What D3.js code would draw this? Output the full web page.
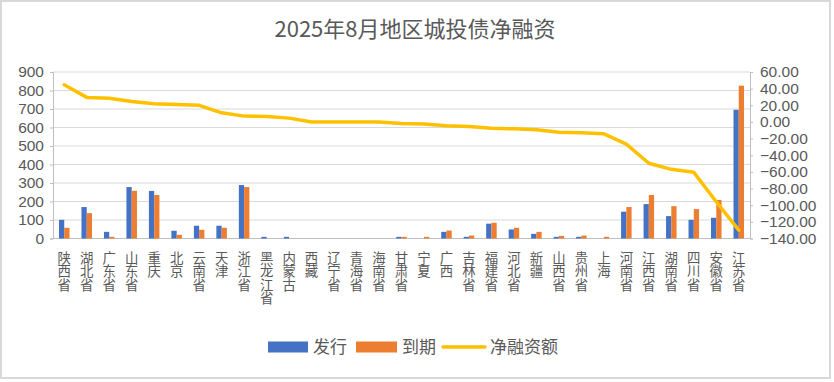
<!DOCTYPE html>
<html><head><meta charset="utf-8">
<script src="https://cdn.jsdelivr.net/npm/d3@7"></script>
<style>
html,body{margin:0;padding:0;background:#fff;}
svg{display:block;}
text{font-family:"Liberation Sans","Noto Sans CJK SC",sans-serif;fill:#595959;}
.cjk{font-family:"Noto Sans CJK SC","Liberation Sans",sans-serif;}
.vert{writing-mode:vertical-rl;text-orientation:upright;}
</style></head>
<body>
<svg id="chart" width="834" height="382"></svg>
<script>
const categories = ["陕西省","湖北省","广东省","山东省","重庆","北京","云南省","天津","浙江省","黑龙江省","内蒙古","西藏","辽宁省","青海省","海南省","甘肃省","宁夏","广西","吉林省","福建省","河北省","新疆","山西省","贵州省","上海","河南省","江西省","湖南省","四川省","安徽省","江苏省"];
const issuance = [101,170,36,278,257,42,69,69,289,9,9,0,0,0,0,9,0,36,9,80,49,25,9,9,0,145,186,121,101,112,696];
const maturity = [58,137,9,258,235,20,47,58,278,0,0,0,0,0,0,9,9,43,16,85,58,36,14,16,9,170,235,175,159,208,826];
const netFinancing = [44.7,29.5,28.5,24.5,22,21,20,11,7,6.6,4.6,0,0,0,0,-1.8,-2.6,-4.6,-5.5,-7.5,-8.3,-9.5,-12.3,-13,-14.3,-26.7,-49.6,-56.9,-60.5,-95.8,-130];
const leftTicks = [0,100,200,300,400,500,600,700,800,900];
const rightTicks = [60,40,20,0,-20,-40,-60,-80,-100,-120,-140];
const seriesNames = ["发行","到期","净融资额"];
const title = "2025年8月地区城投债净融资";

const colors = {"发行":"#4472C4","到期":"#ED7D31","净融资额":"#FFC000"};
const svg = d3.select("#chart");

// border
svg.append("rect").attr("x",1).attr("y",1).attr("width",829).attr("height",377)
  .attr("fill","#fff").attr("stroke","#d9d9d9").attr("stroke-width",2);

svg.append("text").attr("class","cjk").attr("x",415).attr("y",37)
  .attr("text-anchor","middle").attr("font-size",22).text(title);

const plot = {left:53, right:750, top:72, bottom:238.5};
const x = d3.scaleBand().domain(categories).range([plot.left, plot.right]).paddingInner(0).paddingOuter(0);
const x1 = d3.scaleBand().domain(["发行","到期"]).range([0, x.bandwidth()]).paddingInner(0).paddingOuter(1.14);
const yL = d3.scaleLinear().domain([0,900]).range([plot.bottom, plot.top]);
const yR = d3.scaleLinear().domain([-140,60]).range([plot.bottom, plot.top]);

// gridlines
svg.append("g").selectAll("line").data(leftTicks.filter(d=>d>0)).join("line")
  .attr("x1",plot.left).attr("x2",plot.right)
  .attr("y1",d=>yL(d)).attr("y2",d=>yL(d))
  .attr("stroke","#d9d9d9").attr("stroke-width",1.2);

// left axis
const axL = svg.append("g").attr("transform",`translate(${plot.left},0)`)
  .call(d3.axisLeft(yL).tickValues(leftTicks).tickSize(3).tickPadding(6));
axL.select(".domain").attr("stroke","#bfbfbf");
axL.selectAll(".tick line").attr("stroke","#bfbfbf");
axL.selectAll(".tick text").attr("font-size",15.5).attr("fill","#595959")
  .attr("font-family","Liberation Sans, sans-serif");

// right axis
const axR = svg.append("g").attr("transform",`translate(${plot.right},0)`)
  .call(d3.axisRight(yR).tickValues(rightTicks).tickSize(3).tickPadding(7).tickFormat(d=>d3.format(".2f")(d)));
axR.select(".domain").attr("stroke","#bfbfbf");
axR.selectAll(".tick line").attr("stroke","#bfbfbf");
axR.selectAll(".tick text").attr("font-size",15.5).attr("fill","#595959")
  .attr("font-family","Liberation Sans, sans-serif");

// x baseline
svg.append("line").attr("x1",plot.left).attr("x2",plot.right)
  .attr("y1",plot.bottom).attr("y2",plot.bottom).attr("stroke","#bfbfbf").attr("stroke-width",1.2);

// bars
const barData = categories.map((c,i)=>({c, vals:[{k:"发行",v:issuance[i]},{k:"到期",v:maturity[i]}]}));
const groups = svg.append("g").selectAll("g").data(barData).join("g")
  .attr("transform",d=>`translate(${x(d.c)},0)`);
groups.selectAll("rect").data(d=>d.vals).join("rect")
  .attr("x",d=>x1(d.k)).attr("width",x1.bandwidth())
  .attr("y",d=>yL(d.v)).attr("height",d=>plot.bottom - yL(d.v))
  .attr("fill",d=>colors[d.k]);

// line
const line = d3.line().x((d,i)=>x(categories[i]) + x.bandwidth()/2).y(d=>yR(d));
svg.append("path").datum(netFinancing).attr("d",line)
  .attr("fill","none").attr("stroke",colors["净融资额"]).attr("stroke-width",3.5)
  .attr("stroke-linejoin","round").attr("stroke-linecap","round");

// x labels (vertical)
svg.append("g").selectAll("text").data(categories).join("text")
  .attr("class","cjk vert").attr("font-size",13.4)
  .attr("x",d=>x(d)+x.bandwidth()/2).attr("y",251)
  .text(d=>d);

// legend
const lg = svg.append("g");
const ly = 347;
lg.append("rect").attr("x",268).attr("y",ly-5.5).attr("width",40).attr("height",11).attr("fill",colors["发行"]);
lg.append("text").attr("class","cjk").attr("x",313).attr("y",ly+6).attr("font-size",17).text(seriesNames[0]);
lg.append("rect").attr("x",356).attr("y",ly-5.5).attr("width",41).attr("height",11).attr("fill",colors["到期"]);
lg.append("text").attr("class","cjk").attr("x",402).attr("y",ly+6).attr("font-size",17).text(seriesNames[1]);
lg.append("line").attr("x1",443).attr("x2",485).attr("y1",ly).attr("y2",ly)
  .attr("stroke",colors["净融资额"]).attr("stroke-width",3.5).attr("stroke-linecap","round");
lg.append("text").attr("class","cjk").attr("x",490).attr("y",ly+6).attr("font-size",17).text(seriesNames[2]);
</script>
</body></html>
